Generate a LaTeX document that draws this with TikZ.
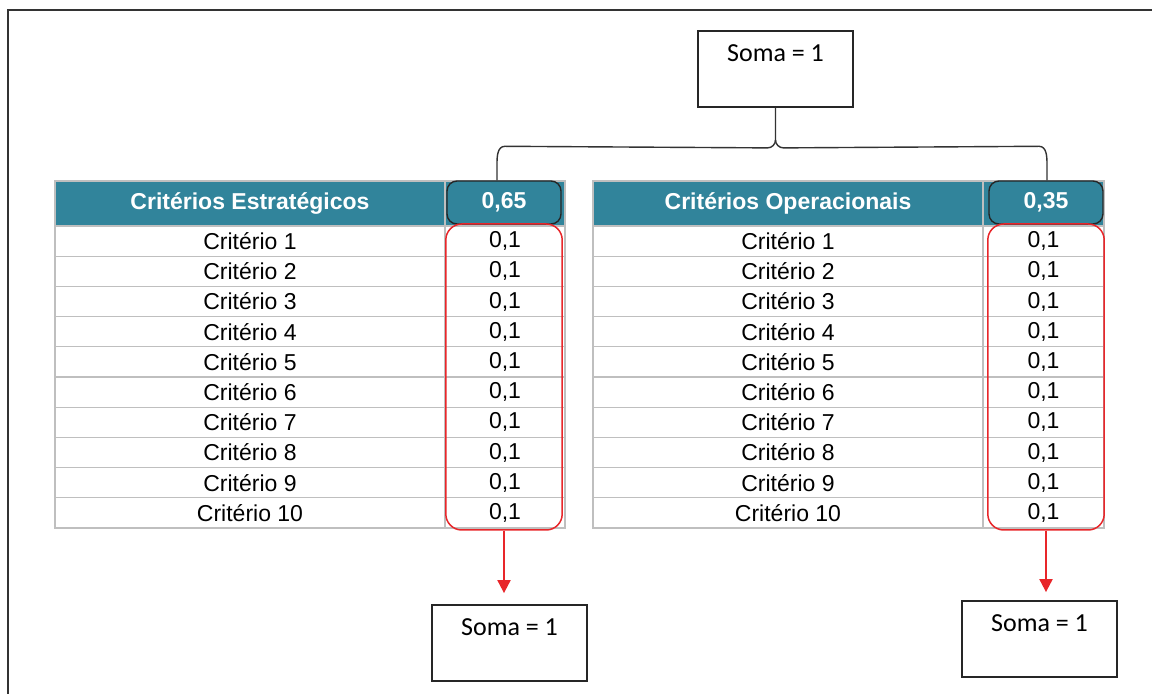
\documentclass[tikz,border=0pt]{standalone}
\usepackage{fontspec}
\setmainfont{Liberation Sans}
\newfontfamily\somafont{Carlito}
\usepackage{tikz}
\usetikzlibrary{arrows.meta, positioning}
\definecolor{hdrteal}{HTML}{31849B}
\definecolor{gridgray}{HTML}{BFBFBF}
\definecolor{grpred}{HTML}{E8262A}

\begin{document}
\begin{tikzpicture}[
  x=0.5pt, y=-0.5pt,
  font=\fontsize{11.5}{13}\selectfont, >={Triangle[length=6.5pt, width=6.5pt]},
  namecell/.style={draw=gridgray, line width=0.6pt, minimum width=195pt,
                   minimum height=15.1pt, inner sep=0pt},
  valcell/.style={namecell, minimum width=60pt},
  headcell/.style={namecell, fill=hdrteal, text=white, minimum height=22.5pt,
                   font=\bfseries\fontsize{11.5}{13}\selectfont},
  wbox/.style={draw=black!85, line width=0.7pt, rounded corners=5pt, fill=hdrteal,
               text=white, minimum width=57pt, minimum height=21.5pt, inner sep=0pt,
               font=\bfseries\fontsize{11.5}{13}\selectfont},
  grp/.style={draw=grpred, line width=0.75pt, rounded corners=8pt, inner sep=0pt,
              minimum width=58.2pt, minimum height=153pt},
  somabox/.style={draw=black!85, line width=0.9pt, minimum width=77.5pt,
                  minimum height=38pt, inner sep=0pt},
  somatxt/.style={anchor=north, inner sep=0pt, yshift=-7pt,
                  font=\somafont\fontsize{13}{15}\selectfont},
  brace/.style={draw=black!80, line width=0.7pt},
  ar/.style={->, draw=grpred, fill=grpred, line width=1pt},
]
\useasboundingbox (0,0) rectangle (1152,694);
\draw[black!80, line width=1pt] (8,694) -- (8,10) -- (1152,10);

% headers
\node[headcell] (hE) at (250,203.5) {Crit\'erios Estrat\'egicos};
\node[headcell, minimum width=60pt] (hvE) at (505,203.5) {};
\node[headcell] (hO) at (788,203.5) {Crit\'erios Operacionais};
\node[headcell, minimum width=60.5pt] (hvO) at (1043.5,203.5) {};
\node[wbox] (wE) at (504,202.5) {0,65};
\node[wbox] (wO) at (1046,202.5) {0,35};

% rows
\foreach \i in {1,...,10} {
  \node[namecell] (critE\i) at (250,211+30.2*\i) {Crit\'erio \i};
  \node[valcell] (pesoE\i) at (505,211+30.2*\i) {0,1};
  \node[namecell] (critO\i) at (788,211+30.2*\i) {Crit\'erio \i};
  \node[valcell, minimum width=60.5pt] (pesoO\i) at (1043.5,211+30.2*\i) {0,1};
}
\node[grp] (grpE) at (504,377) {};
\node[grp] (grpO) at (1046,377) {};

% soma boxes
\node[somabox, label={[somatxt]north:Soma = 1}] (somaT) at (775.5,69) {};
\node[somabox, label={[somatxt]north:Soma = 1}] (somaE) at (509.5,643) {};
\node[somabox, label={[somatxt]north:Soma = 1}] (somaO) at (1039.5,639) {};

% brace
\draw[brace] ([xshift=-3.5pt]wE.north) -- ++(0,-16) to[out=90,in=180] ++(8,-18)
  -- ([xshift=-4pt,yshift=-20pt]somaT.south) to[out=0,in=-90]
  ([yshift=-16pt]somaT.south) -- (somaT.south);
\draw[brace] ([xshift=0.5pt]wO.north) -- ++(0,-16) to[out=90,in=0] ++(-8,-18)
  -- ([xshift=4pt,yshift=-20pt]somaT.south) to[out=180,in=-90]
  ([yshift=-16pt]somaT.south);

\draw[ar, shorten >=5.5pt] (grpE.south) -- (grpE.south |- somaE.north);
\draw[ar, shorten >=4pt] (grpO.south) -- (grpO.south |- somaO.north);
\end{tikzpicture}
\end{document}
